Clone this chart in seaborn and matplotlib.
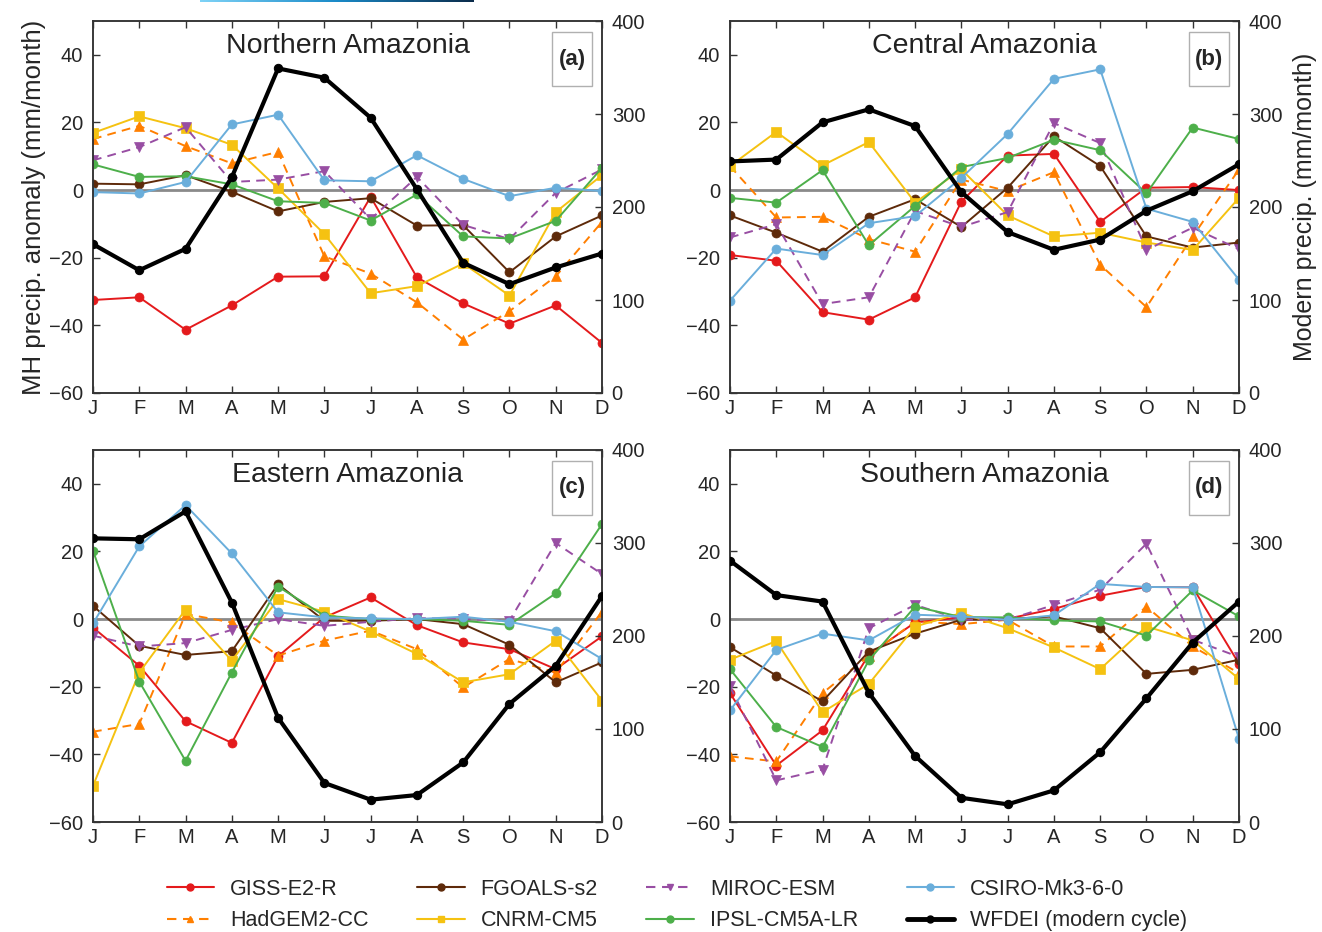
import numpy as np
import pandas as pd
import matplotlib
matplotlib.use("Agg")
import matplotlib.pyplot as plt
import seaborn as sns
from matplotlib.lines import Line2D
from matplotlib.patches import Rectangle
from matplotlib.colors import LinearSegmentedColormap

sns.set_style("ticks")
plt.rcParams["font.family"] = ["Liberation Sans", "DejaVu Sans"]
plt.rcParams["axes.unicode_minus"] = True

months = ["J", "F", "M", "A", "M", "J", "J", "A", "S", "O", "N", "D"]
regions = ["Northern Amazonia", "Central Amazonia", "Eastern Amazonia", "Southern Amazonia"]
panel_tags = ["(a)", "(b)", "(c)", "(d)"]

# Mid-Holocene minus pre-industrial precipitation anomaly (mm/month)
giss_n = [-32.5, -31.7, -41.3, -34.1, -25.6, -25.5, -2.0, -25.8, -33.5, -39.5, -34.1, -45.2]
fgoals_n = [1.9, 1.7, 4.4, -0.5, -6.3, -3.5, -2.4, -10.5, -10.4, -24.3, -13.7, -7.5]
miroc_n = [8.8, 12.7, 18.6, 2.4, 3.1, 5.6, -8.6, 3.9, -10.3, -14.5, -0.8, 6.1]
csiro_n = [-0.6, -1.0, 2.4, 19.4, 22.3, 2.9, 2.6, 10.3, 3.3, -1.8, 0.7, -0.3]
hadgem_n = [15.1, 19.0, 13.0, 7.9, 11.3, -19.6, -24.7, -33.2, -44.2, -35.8, -25.5, -9.4]
cnrm_n = [16.9, 21.8, 18.3, 13.4, 0.5, -13.0, -30.5, -28.4, -21.7, -31.2, -6.5, 4.4]
ipsl_n = [7.6, 3.9, 4.1, 1.7, -3.3, -3.8, -9.0, -1.3, -13.7, -14.3, -9.1, 6.6]

giss_c = [-19.2, -20.9, -36.1, -38.3, -31.7, -3.4, 10.2, 10.7, -9.4, 0.7, 0.9, 0.0]
fgoals_c = [-7.5, -12.6, -18.2, -7.9, -2.7, -10.9, 0.7, 15.9, 7.1, -13.7, -17.0, -15.5]
miroc_c = [-14.0, -10.1, -33.7, -31.7, -6.2, -10.9, -6.5, 19.8, 13.9, -17.7, -11.1, -17.5]
csiro_c = [-32.7, -17.3, -19.2, -9.8, -7.7, 3.6, 16.6, 32.9, 35.7, -5.5, -9.4, -26.5]
hadgem_c = [7.1, -8.1, -7.9, -14.5, -18.2, 3.1, -0.3, 5.3, -22.1, -34.6, -13.7, 6.1]
cnrm_c = [7.1, 17.2, 7.3, 14.2, -3.7, 6.1, -7.5, -13.7, -12.6, -15.5, -17.7, -2.3]
ipsl_c = [-2.3, -3.7, 5.9, -16.3, -4.7, 6.8, 9.5, 14.9, 11.8, -1.0, 18.5, 15.1]

giss_e = [-2.5, -13.8, -30.2, -36.6, -11.0, 0.5, 6.4, -1.8, -6.9, -8.9, -14.8, -5.1]
fgoals_e = [3.9, -7.9, -10.6, -9.5, 10.3, -0.5, -0.5, 0.0, -1.5, -7.6, -18.7, -12.8]
miroc_e = [-4.9, -8.1, -7.1, -3.2, 0.0, -2.0, -0.8, 0.3, 0.0, -0.5, 22.5, 13.3]
csiro_e = [-1.3, 21.5, 33.7, 19.4, 2.0, 0.5, 0.2, 0.0, 0.7, -0.8, -3.6, -11.8]
hadgem_e = [-33.3, -31.0, 1.5, -1.0, -10.8, -6.4, -3.4, -8.9, -20.2, -11.8, -15.8, 2.2]
cnrm_e = [-49.3, -15.8, 2.8, -12.3, 5.9, 2.2, -3.7, -10.3, -18.7, -16.3, -6.4, -24.1]
ipsl_e = [20.2, -18.5, -41.9, -15.8, 9.6, 1.0, 0.0, 0.0, -0.5, -1.7, 7.6, 28.1]

giss_s = [-21.9, -43.3, -32.9, -10.5, -1.0, 0.5, 0.1, 3.0, 6.9, 9.5, 9.4, -13.2]
fgoals_s = [-8.3, -16.7, -24.3, -9.6, -4.3, -0.2, 0.0, 0.8, -2.7, -16.2, -15.0, -12.0]
miroc_s = [-19.9, -47.7, -44.5, -2.7, 4.2, -0.2, -0.2, 4.2, 8.7, 22.3, -6.1, -11.2]
csiro_s = [-27.0, -9.1, -4.3, -6.3, 1.3, 0.8, -0.2, 1.1, 10.4, 9.5, 9.4, -35.4]
hadgem_s = [-40.6, -42.1, -21.9, -10.8, -0.7, -1.5, -0.2, -8.1, -8.1, 3.7, -8.1, -16.0]
cnrm_s = [-12.0, -6.5, -27.5, -19.2, -2.2, 1.8, -2.7, -8.4, -14.8, -2.2, -6.3, -17.7]
ipsl_s = [-14.8, -31.9, -37.8, -12.2, 3.7, 0.6, 0.5, -0.4, -0.7, -4.9, 8.5, 0.8]

# Modern (WFDEI) seasonal cycle of precipitation (mm/month)
wfdei_n = [160, 132, 155, 232, 349, 339, 296, 219, 140, 117, 135, 150]
wfdei_c = [249, 251, 291, 305, 287, 216, 173, 154, 165, 196, 217, 246]
wfdei_e = [305, 304, 334, 236, 112, 42, 24, 29, 64, 127, 168, 243]
wfdei_s = [281, 244, 237, 139, 71, 26, 19, 34, 75, 133, 193, 237]

model_names = ["GISS-E2-R", "HadGEM2-CC", "FGOALS-s2", "CNRM-CM5",
               "MIROC-ESM", "IPSL-CM5A-LR", "CSIRO-Mk3-6-0"]
model_colors = ["#e41a1c", "#ff7f00", "#5e2a0a", "#f5c211",
                "#984ea3", "#4daf4a", "#6aaedb"]
model_markers = ["o", "^", "o", "s", "v", "o", "o"]
model_sizes = [6.5, 7, 6.5, 7, 7, 6.5, 6.5]
dash = (0, (4.5, 3.2))
model_styles = ["-", dash, "-", "-", dash, "-", "-"]

anomalies = [
    [giss_n, hadgem_n, fgoals_n, cnrm_n, miroc_n, ipsl_n, csiro_n],
    [giss_c, hadgem_c, fgoals_c, cnrm_c, miroc_c, ipsl_c, csiro_c],
    [giss_e, hadgem_e, fgoals_e, cnrm_e, miroc_e, ipsl_e, csiro_e],
    [giss_s, hadgem_s, fgoals_s, cnrm_s, miroc_s, ipsl_s, csiro_s],
]
modern = [wfdei_n, wfdei_c, wfdei_e, wfdei_s]

W, H = 1322, 932
fig = plt.figure(figsize=(W / 100, H / 100), dpi=100)

# thin gradient rule along the top edge
grad_ax = fig.add_axes([200 / W, 1 - 2.5 / H, 274 / W, 2.5 / H])
grad_cmap = LinearSegmentedColormap.from_list("rule", ["#7fd3f7", "#1a8ac8", "#0b2b4a"])
grad_ax.imshow(np.linspace(0, 1, 256)[None, :], aspect="auto", cmap=grad_cmap)
grad_ax.set_axis_off()

boxes = [(93, 21), (730, 21), (93, 450), (730, 450)]
aw, ah = 509, 372
spine_col = "#333333"
x = np.arange(12)

for i in range(4):
    left, top = boxes[i]
    ax = fig.add_axes([left / W, 1 - (top + ah) / H, aw / W, ah / H])
    ax2 = ax.twinx()

    ax.axhline(0, color="#8a8a8a", lw=2.0, zorder=1.5)
    for name, vals, col, mk, ms, ls in zip(model_names, anomalies[i], model_colors,
                                           model_markers, model_sizes, model_styles):
        df = pd.DataFrame({"month": x, "anom": vals})
        sns.lineplot(data=df, x="month", y="anom", ax=ax, color=col, marker=mk,
                     markersize=ms, markeredgecolor=col, markeredgewidth=0.5,
                     linestyle=ls, linewidth=1.4, legend=False, zorder=2)
    dfm = pd.DataFrame({"month": x, "precip": modern[i]})
    sns.lineplot(data=dfm, x="month", y="precip", ax=ax2, color="black", marker="o",
                 markersize=6, markeredgecolor="black", linewidth=3.0, legend=False,
                 zorder=3)

    ax.set_xlim(0, 11)
    ax.set_ylim(-60, 50)
    ax2.set_ylim(0, 400)
    ax.set_xticks(x)
    ax.set_xticklabels(months)
    ax.set_yticks([-60, -40, -20, 0, 20, 40])
    ax2.set_yticks([0, 100, 200, 300, 400])
    ax.set_xlabel("")
    ax.set_ylabel("")
    ax2.set_ylabel("")

    ax.tick_params(axis="x", direction="in", top=True, bottom=True, length=5,
                   width=1, color=spine_col, labelsize=14.5, pad=4)
    ax.tick_params(axis="y", direction="in", left=True, right=False, length=5,
                   width=1, color=spine_col, labelsize=14.5, pad=7)
    ax2.tick_params(axis="y", direction="in", right=True, length=5, width=1,
                    color=spine_col, labelsize=14.5, pad=7)
    for a in (ax, ax2):
        for sp in a.spines.values():
            sp.set_visible(True)
            sp.set_color(spine_col)
            sp.set_linewidth(1.1)

    ax.text(0.5, 0.932, regions[i], transform=ax.transAxes, ha="center", va="center",
            fontsize=20.5, color="#222222", zorder=5)
    bx0, bx1 = (552 - 93) / aw, (592 - 93) / aw
    by0, by1 = 1 - (86 - 21) / ah, 1 - (32 - 21) / ah
    ax2.add_patch(Rectangle((bx0, by0), bx1 - bx0, by1 - by0, transform=ax.transAxes,
                            facecolor="white", edgecolor="#b0b0b0", lw=1.0, zorder=6))
    ax2.text((bx0 + bx1) / 2, (by0 + by1) / 2, panel_tags[i], transform=ax.transAxes,
             ha="center", va="center", fontsize=16, fontweight="bold", zorder=7)

    if i == 0:
        ax.set_ylabel("MH precip. anomaly (mm/month)", fontsize=18.5, labelpad=2)
    if i == 1:
        ax2.set_ylabel("Modern precip. (mm/month)", fontsize=18, labelpad=8)

handles = []
labels = []
for name, col, mk, ls in zip(model_names, model_colors, model_markers, model_styles):
    handles.append(Line2D([], [], color=col, marker=mk, markersize=5, linestyle=ls,
                          linewidth=1.5, markeredgecolor=col))
    labels.append(name)
handles.append(Line2D([], [], color="black", marker="o", markersize=5, linewidth=3.5))
labels.append("WFDEI (modern cycle)")

fig.legend(handles, labels, ncol=4, loc="center", bbox_to_anchor=(677 / W, 1 - 905 / H),
           frameon=False, fontsize=15.5, handlelength=2.2, handletextpad=0.75,
           columnspacing=2.25, labelspacing=0.5)

fig.savefig("out.png", dpi=100)
